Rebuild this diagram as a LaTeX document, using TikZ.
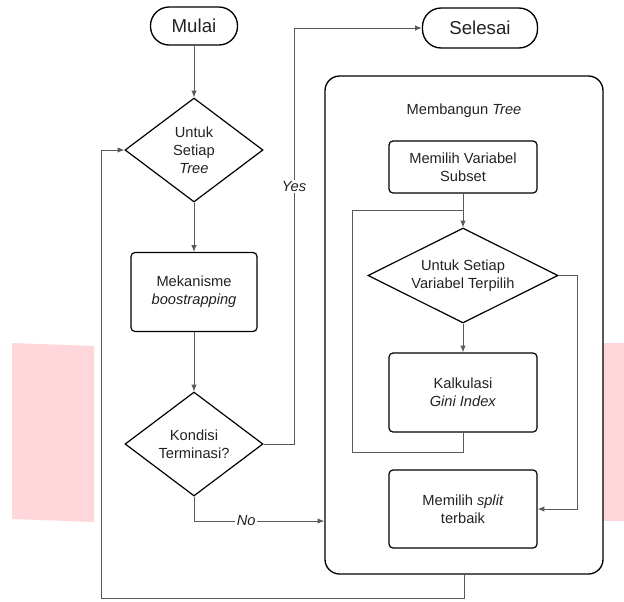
\documentclass[tikz,border=0pt]{standalone}
\usepackage{fontspec}
\setmainfont{Liberation Sans}
\usetikzlibrary{shapes.geometric,arrows.meta}

\definecolor{linegray}{HTML}{5A5A5A}
\definecolor{textdark}{HTML}{222222}
\definecolor{marksoft}{HTML}{FFD7DB}
\def\px{0.75pt}

\begin{document}
\begin{tikzpicture}[x=0.75pt,y=-0.75pt,>={Latex[length=5pt,width=4pt]},
    terminal/.style={draw, line width=1pt, rectangle, rounded corners=14pt, text=textdark,
      font=\fontsize{14}{16}\selectfont},
    process/.style={draw, line width=0.9pt, rectangle, rounded corners=3pt, align=center,
      text=textdark, font=\fontsize{11}{13.5}\selectfont},
    decision/.style={draw, line width=0.9pt, diamond, aspect=2, inner sep=0pt, align=center,
      text=textdark, font=\fontsize{11}{13.5}\selectfont},
    link/.style={draw=linegray, line width=0.7pt},
    tag/.style={fill=white, inner sep=1pt, text=textdark, font=\fontsize{11}{12}\selectfont\itshape}]

    % 1. Frame of the page and the soft marks behind the chart
    \useasboundingbox (0,0) rectangle (624,601);
    \fill[marksoft] (12,343) -- (94,346) -- (94,522) -- (12,519) -- cycle;
    \fill[marksoft] (603,343) -- (624,343) -- (624,521) -- (603,521) -- cycle;

    % 2. Main flow (left column)
    \node[terminal, minimum width=87*\px, minimum height=38*\px] (start) at (194,26) {Mulai};
    \node[terminal, minimum width=115*\px, minimum height=40*\px] (stop) at (480,28) {Selesai};
    \node[decision, minimum width=138*\px, minimum height=104*\px] (tree) at (194,150)
      {Untuk\\Setiap\\\textit{Tree}};
    \node[process, minimum width=126*\px, minimum height=79*\px] (boot) at (194,292)
      {Mekanisme\\\textit{boostrapping}};
    \node[decision, minimum width=138*\px, minimum height=104*\px] (stopcheck) at (194,444)
      {Kondisi\\Terminasi?};

    % 3. Building one tree (right block)
    \node[draw, line width=1pt, rounded corners=11pt, minimum width=278*\px,
      minimum height=498*\px] (build) at (464,325) {};
    \node[text=textdark, font=\fontsize{11}{13.5}\selectfont] (buildtitle) at (464,111)
      {Membangun \textit{Tree}};
    \node[process, minimum width=148*\px, minimum height=52*\px] (subset) at (463,167)
      {Memilih Variabel\\Subset};
    \node[decision, minimum width=190*\px, minimum height=95*\px] (each) at (463,275.5)
      {Untuk Setiap\\Variabel Terpilih};
    \node[process, minimum width=148*\px, minimum height=79*\px] (gini) at (463,392.5)
      {Kalkulasi\\\textit{Gini Index}};
    \node[process, minimum width=148*\px, minimum height=78*\px] (split) at (463,509)
      {Memilih \textit{split}\\terbaik};

    % 4. Connectors
    \coordinate (yesturn) at (294,444);
    \coordinate (loopcorner) at (101,598);
    \coordinate (giniback) at (352,452);
    \coordinate (splitturn) at (577,509);

    \draw[link,->] (start) -- (tree);
    \draw[link,->] (tree) -- (boot);
    \draw[link,->] (boot) -- (stopcheck);
    \draw[link,->] (stopcheck.east) -- (yesturn) |- node[tag, pos=0.31] {Yes} (stop.west);
    \draw[link,->] (stopcheck.south) |- node[tag, pos=0.7] {No} (build.west |- 0,521);
    \draw[link,->] (build.south) |- (loopcorner) |- (tree.west);

    \draw[link,->] (subset) -- (each);
    \draw[link,->] (each) -- (gini);
    \draw[link] (gini.south) |- (giniback) |- (subset.south |- 0,210);
    \draw[link,->] (each.east) -| (splitturn) -- (split.east);

  \end{tikzpicture}
\end{document}
